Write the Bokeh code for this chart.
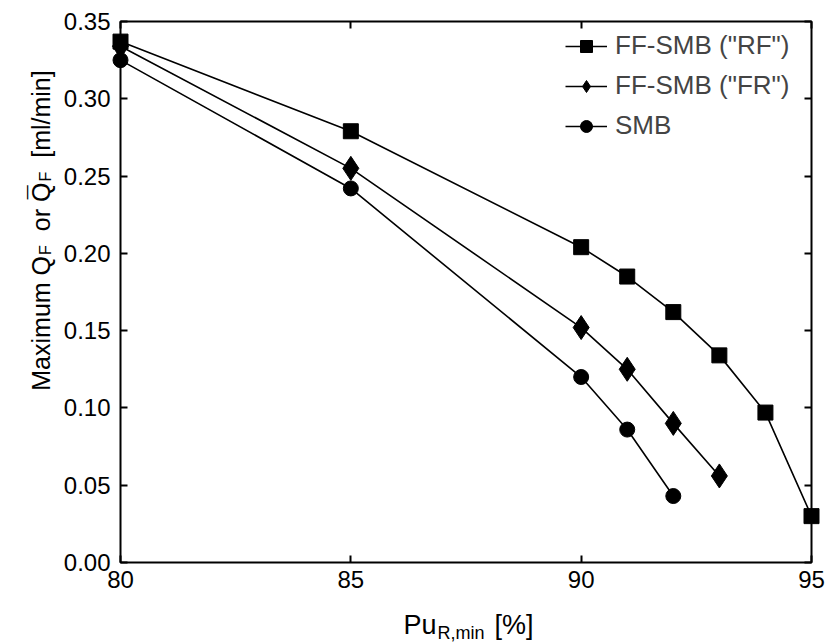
import math
from bokeh.plotting import figure
from bokeh.layouts import column, row
from bokeh.models import (Range1d, FixedTicker, LinearAxis, Label, Legend,
                          LegendItem, NumeralTickFormatter, CustomJSTickFormatter)
from bokeh.embed import file_html
from bokeh.resources import INLINE

# ---- data ----
x_rf = [80, 85, 90, 91, 92, 93, 94, 95]
y_rf = [0.337, 0.279, 0.204, 0.185, 0.162, 0.134, 0.097, 0.030]
x_fr = [80, 85, 90, 91, 92, 93]
y_fr = [0.334, 0.255, 0.152, 0.125, 0.090, 0.056]
x_smb = [80, 85, 90, 91, 92]
y_smb = [0.325, 0.242, 0.120, 0.086, 0.043]
x_ticks = [80, 85, 90, 95]
y_ticks = [0.00, 0.05, 0.10, 0.15, 0.20, 0.25, 0.30, 0.35]
names = ['FF-SMB ("RF")', 'FF-SMB ("FR")', 'SMB']

FONT = "Liberation Sans"
YW = 60          # width of the y-title strip
MAIN_W, MAIN_H = 767, 602
XH = 40          # height of the x-title strip

p = figure(width=MAIN_W, height=MAIN_H, output_backend="svg",
           toolbar_location=None,
           x_range=Range1d(80, 95), y_range=Range1d(0, 0.35),
           x_axis_location=None, y_axis_location=None,
           min_border_left=58, min_border_right=16, min_border_top=21,
           min_border_bottom=40)
p.xgrid.visible = False
p.ygrid.visible = False
p.outline_line_color = "black"
p.outline_line_width = 2
p.background_fill_color = "white"
p.border_fill_color = "white"

blank = CustomJSTickFormatter(code="return ''")


def style_axis(ax, labels=True):
    ax.axis_line_color = None
    ax.major_tick_in = 7
    ax.major_tick_out = 0
    ax.major_tick_line_width = 2
    ax.major_tick_line_color = "black"
    ax.minor_tick_line_color = None
    ax.major_label_text_font = FONT
    ax.major_label_text_color = "black"
    ax.major_label_text_font_size = "24px"
    if not labels:
        ax.major_label_standoff = 0


xt = FixedTicker(ticks=x_ticks)
yt = FixedTicker(ticks=y_ticks)

bottom = LinearAxis(ticker=xt)
style_axis(bottom)
bottom.major_label_standoff = 8
top = LinearAxis(ticker=xt, formatter=blank)
style_axis(top, labels=False)
left = LinearAxis(ticker=yt, formatter=NumeralTickFormatter(format="0.00"))
style_axis(left)
left.major_label_standoff = 10
right = LinearAxis(ticker=yt, formatter=blank)
style_axis(right, labels=False)

p.add_layout(bottom, "below")
p.add_layout(top, "above")
p.add_layout(left, "left")
p.add_layout(right, "right")

# ---- series ----
items = []
series = [(x_rf, y_rf, "square", 15),
          (x_fr, y_fr, "diamond", 24),
          (x_smb, y_smb, "circle", 15)]
for (xs, ys, mk, sz), nm in zip(series, names):
    ln = p.line(xs, ys, line_color="black", line_width=1.6)
    sc = p.scatter(xs, ys, marker=mk, size=sz, fill_color="black",
                   line_color="black", line_width=1.0, level="overlay")
    items.append(LegendItem(label=nm, renderers=[ln, sc]))

legend = Legend(items=items, location=(445, 421), margin=0, padding=0,
                spacing=9, glyph_width=42, glyph_height=30, label_standoff=8,
                label_text_font=FONT, label_text_font_size="26px",
                label_height=30, border_line_color=None,
                background_fill_alpha=0, level="overlay")
p.add_layout(legend)

# ---- title strips ----
W = {' ': 278, 'M': 833, 'a': 556, 'x': 500, 'i': 222, 'm': 833, 'u': 556,
     'Q': 778, 'F': 611, 'o': 556, 'r': 333, '[': 278, 'l': 222, '/': 278,
     'n': 556, ']': 278, 'P': 667, 'R': 722, ',': 278, '%': 889, '¯': 552}


def tw(s, fs):
    return sum(W.get(c, 556) for c in s) * fs / 1000.0


def strip(w, h):
    f = figure(width=w, height=h, output_backend="svg", toolbar_location=None,
               x_range=Range1d(0, 1), y_range=Range1d(0, 1),
               x_axis_location=None, y_axis_location=None,
               min_border=0)
    f.xgrid.visible = False
    f.ygrid.visible = False
    f.outline_line_color = None
    f.background_fill_color = "white"
    f.border_fill_color = "white"
    return f


def lab(fig, text, x, y, fs, angle=0.0):
    fig.add_layout(Label(x=x, y=y, x_units="screen", y_units="screen",
                         text=text, angle=angle, text_font=FONT,
                         text_font_size=f"{fs}px", text_color="black",
                         text_align="left", text_baseline="alphabetic"))


# y title (rotated) in the left strip
yf = strip(YW, MAIN_H)
FS, SS = 25, 16
bx = 40
pieces = [("Maximum Q", FS, 0), ("F", SS, 5), ("or Q", FS, 0), ("F", SS, 5),
          ("[ml/min]", FS, 0)]
gaps = [0, 1, 14, 1, 14]
total = sum(tw(t, f) for t, f, _ in pieces) + sum(gaps)
center_px = 270                       # picture y of the title's middle
pos = (MAIN_H - center_px) - total / 2
q2_start = None
for (t, f, dx), g in zip(pieces, gaps):
    pos += g
    if t == "or Q":
        q2_start = pos + tw("or ", f)
    lab(yf, t, bx + dx, pos, f, angle=math.pi / 2)
    pos += tw(t, f)
mac = q2_start + (tw("Q", FS) - tw("¯", FS)) / 2
lab(yf, "¯", bx - 3, mac, FS, angle=math.pi / 2)

# x title in the bottom strip
xf = strip(YW + MAIN_W, XH)
XF, XS = 27, 18
xpieces = [("Pu", XF, 0), ("R,min", XS, -8), ("[%]", XF, 0)]
xgaps = [0, 1, 10]
xtotal = sum(tw(t, f) for t, f, _ in xpieces) + sum(xgaps)
xp = 468 - xtotal / 2
by = 18
for (t, f, dy), g in zip(xpieces, xgaps):
    xp += g
    lab(xf, t, xp, by + dy, f)
    xp += tw(t, f)

layout = column(row(yf, p, spacing=0), xf, spacing=0)
open("out.html", "w").write(file_html(layout, INLINE))
